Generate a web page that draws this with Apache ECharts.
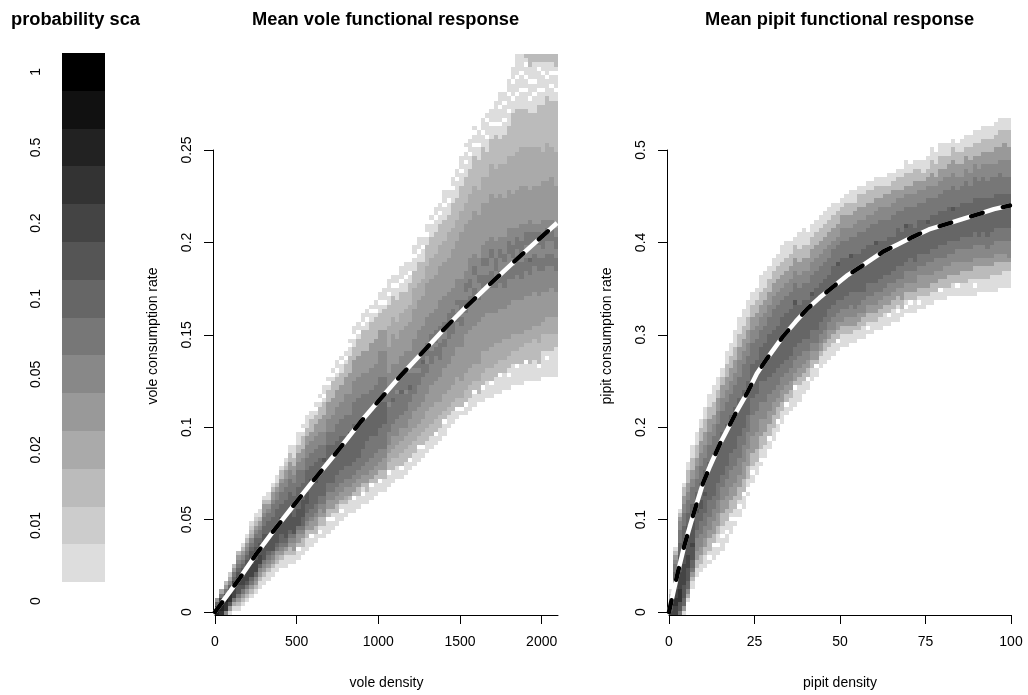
<!DOCTYPE html>
<html><head><meta charset="utf-8">
<style>html,body{margin:0;padding:0;background:#fff}#c{width:1028px;height:695px}</style>
<script src="https://cdn.jsdelivr.net/npm/echarts@6/dist/echarts.min.js"></script></head>
<body><div id="c"></div>
<script>
const scaleLabels=['0','','0.01','','0.02','','0.05','','0.1','','0.2','','0.5','','1'];
const scaleGrays=[255,221,204,187,170,153,136,119,102,85,68,51,34,17,0];
const levelCodes={'.':255,a:221,b:204,c:187,d:170,e:153,f:136,g:119,h:102,i:85,j:68,k:51,l:34,m:17,n:0};
const voleTicksX=[0,500,1000,1500,2000];
const pipitTicksX=[0,25,50,75,100];
const voleCurveX=[0,50,153,250,355,480,612,750,888,1000,1133,1260,1396,1530,1672,1880,2094];
const voleCurveY=[0,0.006,0.0185,0.031,0.0435,0.0575,0.0722,0.087,0.1025,0.114,0.1275,0.1395,0.1525,0.1645,0.1765,0.1935,0.2105];
const pipitCurveX=[0,1.2,2.6,4.5,7,9.9,12,14.9,17,19.9,23,25.7,28.6,33.3,37,40.4,44,48,52,55,59,62.6,67,71.3,76,81.3,85.5,90,95,99.7];
const pipitCurveY=[0,0.02,0.043,0.072,0.104,0.139,0.158,0.182,0.197,0.218,0.238,0.258,0.274,0.298,0.314,0.328,0.34,0.352,0.364,0.371,0.381,0.39,0.398,0.406,0.414,0.42,0.425,0.43,0.436,0.44];
// column-by-column probability levels, "firstRow:letter+runLength..."
const voleColumns=[
"0:l1k1h1e1","0:k1l2j1g1d1","0:f1k2l1j1g1e1c1","0:a1e1i1k2j1h1f1d1b1","1:a1d1g1j2k1j1h1g1e1c1","1:a1c1e1g1i2j2i1h1g1f1e1c1",
"2:a1c1e1g1i1j2i2h1g1f1e1c1a1","3:a1c1e1g1i1j3i2h1g1f1e1c1a1","4:a1c1e1g1h1j3i3h1g1f1d1c1b1a1","5:a1c1e1f1h1j3i3h2g1f1e1c1b1a1",
"6:a2c1e1f1h1j2i3h1g2f1e1c1a2","7:a2c1e1f1g1i3j1i2h2g2f1e2c1a1","8:a2c1e1f1g1h1i4h3g2f1e1c1a2","9:a2c1e1f1g1i4h4g3f1e2c1a1",
"10:a2c1d1e1g1h1i4h4g2f2e1c1a2","11:a2c1e1f1g1h2i4h3g3f2e1c2a1","11:a3c1e1g1h1i5h4g3f2e2c1b1a1","12:a2c2e1f1g1h1i4h5g3f2e2c2a2",
"12:a2c1e2f1g1i4h5g3f2e2c2a3","13:a2.1c1e2f1g1i4h5g4f2e2c2a3","14:a2c2e1f1g1h2i4h4g3f3e2c3a1.1a1","15:a3c2e1f1g2h2i3h5g3f3e2c2a3",
"16:a2.1c1e2f1g2h6i1h3g3f3e2c3a2","17:a2c2e2f1g2h5i1h4g3f3e3c2a1.1a1","18:a1.1a1c2e2f1g2h9g3f3e3c3a1.1a1","18:a3c2e1f2g2h8i1g3f3e4c3a1.1a2",
"19:a3.1c2e2f2g2h9g3f3e4c3a1.1a1","20:a2.1a1c1e2f2g2h9g3f4e4c4a1.1a1","21:a3c2e2f2g3h8g4f4e4c3a1.1a2","22:a2.1a1c1e2f2g3h8g4f4e4c3a2.1a1",
"23:a3c1d1e2f2g3h7g5f5e4c3a1.1a1","24:a3c1e2f2g3h7i1g4f5e5c4a2.1a1","24:a3.1c1e2f2g3h9g5f5e5c3a2.1a2","25:a3c2e2f2g3h8g6f5e5c4a1.1a2",
"26:a2.1a1c1e2f2g4h7g6f5e5c5a1.1a2","26:a3c2e2f3g5h6g5f5e5c5a2.1a2","27:a3.1c1e2f3g5h6g5f5e6c5a2.1a1","28:a3c2e2f3g4h7g5f5e6c5a1.1a2",
"29:a2.1c2e2f3g5h6g6f6e5c4a2.1a2","29:a3c2e3f2g6h5g6f6e5c5a1.1a3",
"30:a3.1c2d2e2f3g6f1g3f4e6d5c5a2.1a3","31:a3c3d2e3f3g5h1g3f5e7d4c5a2.1a2","32:a3c2d3e2f4g6f1g2f4e6d4c5a3.1a2","32:a2.1c3d3e3f3g5h1g3f5e6d4c5a2.1a3",
"33:a3c3d3e2f4g4f1g4f5e6d4c4a3.1a3","34:a2.1c3d3e3f4g3h1g3f5e7d4c5a2.1a2","35:a3c3d3e4f4g5f1g2f5e7d5c4a3.1a2","36:a3.1c2d3e4f5g3f1g3f6e7d4c5a2.1a3",
"37:a2.1c3d3e4f6g3h1g2f6e7d4c4a3.1a2","38:a3c3d4e4f5g2f2g3f6e8d4c5a2.1a2","39:a3c3d4e5f5g3f2g2f5e8d5c5a3.1a1","40:a2.1c3d4e5f6g2f1g3f5e8d5c5a3.1a2",
"41:a3c3d3e6f4g4f2g2f6e8d5c5a2.1a2","42:a3.1c2d4e6f5g2f2g2f6e8d5c5a3.1a3","44:a3c2d4e6f6g3f1g2f5e8d6c4a3.1a2","45:a3c2d4e7f5g3h1g2f5e9d5c6a3.1a2",
"46:a2.1c2d5e7f6g2f2g1f5e9d5c5a4.1a2","47:a1.1c2d4e8f5g2f1g3f5e11d5c6a3.1a3","47:a2.1c3d4e9f5g3f2g2f3e11d5c6a3.1a2.1a1","48:a3c3d4e9f6g2f2g2f5e9d6c6a3.1a3",
"49:a3.1c2d4e9f6g3f3g2f3e10d6c7a2.1a2.1a1","50:a2c3d4e10f5g2f2g2f4e10d6c7a3.1a3","50:a3.1c3d5e8f7g3f2g2f3e10d6c7a3.1a3","51:a4c3d4e9f6g3f2g2f4e9d6c6a3.1a3.1a1",
"51:a3.1c3d5e8f6g4f3g2f3e10d7c6a3.1a3","52:a4c3d5e7f6g2f2g3f4e10d7c8a2.1a5","52:a4.1c3d4e8f6g3f3g2f3e10d7c6a3.1a3.1a3","53:a4c3d5e7f5g4f2g2f4e9d8c7a3.1a3.1a2",
"53:a3.1a1c3d4e8f6g3f3g3f3e9d8c7a3.1a3.1a3","54:a5c3d4e8f5g3f2g3f4e8d9c10a3.1a3.1a3","54:a4.1c3d4e8f6g3f3g3f2e9d9c10a3.1a3.1a5","54:a5c4d3e8f5g4f2g3f4e9d9c9a4.1a3.1a4",
"55:a4.1c4d3e8f6g3f3g3f2e9d9c9a4.1a2.1a2.1a1c1","55:a4c5d3e8f5g3h1f3g3f3e7d10c8a3.1a3.1a3c3","55:a5c5d3e8f6g3f2g3f2e9d9c8a4.1a2.1a4c2","55:a3.1c5d4e7f6g3f3g3f2e9d9c10a3.1a4.1a1c2",
"56:a6c4d3e7f5g3f2g3f4e9d7c11a3.1a3.1a2c2","56:a4.1a1c4d4e6f6g3f3g3f2e9d9c11a4.1a3c2","56:a6c4d4e7f5g3f3g3f2e10d7c11a3.1a2.1a2c2","56:a7c3d4e6f5g3f2g3f2e10d8c12a2.1a3.1a1c3"];
const pipitColumns=[
"0:j1i1g1e1c1a1","0:j2k2j2i2h2g2f1e1c1a1","0:g1i2k3j4i4h3g3f2e1c1a1","0:a1e1h2i3j5i5h4g3f2e2c2a1","3:a1d1f1h2i3j3i7h3g3f2e2c3a2",
"6:a2c1e1g1h2i3j1i5h4g4f2e2c3a3","9:a2c2e2f3g2h4i1h4g3f3e2c3a3","10:a2c2e2f3g3h3i2h4g4f3e3c3a2","11:a3c2e2f3g3h4i1h5g3f3e3c3a3",
"12:a1.1a1c3e2f3g4h9g4f3e3c3a3","13:a3.1c2e3f3g3h10g4f3e2c3a4","14:a2.1a2c2e3f3g4h9g5f3e3c2a3","15:a3.1a2c3e3f3g3h10g5f3e3c2a2",
"17:a2.1a2c3e3f4g3h10g5f3e3c3a3","19:a3.1a1c3e3f4g4h9g5f3e3c3a3","21:a1.1a2c3e3f4g4h10g5f3e3c3a4","23:a2.1a1c3e3f4g5h9g5f4e3c3a4",
"25:a3.1c3e4f4g4h9g6f3e3c3a4","28:a1.1a2c3e4f4g4h8g6f3e3c3a4","31:a2.1a1c3e4f5g4h8g5f3e3c3a3","33:a3c3e4f5g4h8g5f3e3c3a3",
"35:a1.1a2c3e4f4g5h8g4f3e3c3a4","37:a3c3e3f4g5h9g4f3e3c3a4","39:a2.1c3e3f4g4h10g4f3e3c3a3","41:a3c3e3f3g4h10g5f3e3c3a3",
"43:a2.1c3e2f3g4h10g5f3e3c3a3","45:a3c2e3f3g3h11g4f3e3c3a4","47:a2.1c2e2f3g3h11g4f3e3c3a4","48:a3c2e2f3g3h11g4f3e3c3a3",
"49:a4.1c1e2f3g3h10i1g4f3e3c3a2","50:a4c2e2f3g3h9g4f3e3c3a4","52:a3c2e2f3g3h9g4f3e3c3a4","53:a2.1c2e2f2g3h9g4f3e3c3a3",
"55:a3c2e2f2g3h8i1g4f3e3c3a3","56:a2.1c1e2f2g3h10g4f3e3c3a3","58:a3c1e2f2g3h9g4f3e3c3a3","59:a3c2e1f2g3h9g4f3e3c3a3",
"60:a3c2e2f2g3h8g4f3e3c3a3","61:a3c2e1f3g3h9g4f2e3c3a3","62:a2.1c2e2f2g3h8i1g4f2e3c3a2",
"63:a3c2e1f3g2h10g4f3e3c2a2","63:a3c2e2f2g3h9g4f3e3c3a2","64:a2c2e2f3g3h8i1g4f2e3c3a3","64:a3c1e2f2g4h9g4f3e3c2a3",
"65:a2c2e2f2g3h9g5f3e3c3a2","65:a3c2e1f3g2h10g4f3e3c3a2","66:a1.1a1c2e2f2g3h9g4f3e3c3a2","66:a3c2e2f2g3h9g5f2e3c3a2",
"67:a2c2e2f3g2h9i1g4f3e3c3a2","67:a3c2e2f2g3h9g5f3e2c3a2","68:a3c2e2f2g3h8g5f3e3c2a2","68:a2.1c2e2f3g2h9g4f3e3c2a3",
"69:a3c2e2f2g3h8g5f3e3c2a2","69:a2.1a1c2e2f2g3h9g4f3e2c3a2","70:a2c2e3f2g3h8g5f3e2c3a2","71:a1.1a1c2e2f3g2h8i1g4f3e2c3a3",
"71:a2.1c2e2f3g3h8g4f3e2c3a2","71:a3c2e2f3g2h8g5f3e3c3a2","72:a1.1a1c2e3f2g3h8g4f3e2c3a2","72:a3c2e3f2g3h8g4f3e2c2a3",
"73:a2c2e3f3g2h7i1g5f3e2c2a3","73:a3c2e2f3g3h8g4f3e3c3a3","74:a2c2e3f3g2h8g4f3e2c3a3","74:a2.1c2e2f3g3h8g4f3e3c3a3",
"74:a3c2e3f2g3h8g5f3e2c3a3","75:a2c3e2f3g3h8g4f3e3c2a3","75:a3c2e3f2g3h7i1g5f3e3c3a2","75:a2.1c2e3f3g2h8g4f3e3c3a2",
"75:a3c3e2f3g3h8g4f2e3c3a3","75:a3c3e2f3g3h8g5f3e3c2a3","75:a4c2e2f3g3h8g4f3e3c3a3","75:a2.1a1c3e2f3g3h8g5f3e2c3a3",
"76:a3c3e2f3g2h9g4f3e3c3a3","76:a3c3e2f3g3h8g5f3e3c3a3","76:a3c3e2f2g3h9g4f4e3c3a3","76:a4c2e2f3g3h8g5f3e3c3a3",
"76:a4c3e2f3g3h8g4f3e4c3a3","77:a3c3e2f3g3h8g5f3e3c4a3","77:a4c2e2f3g3h8g4f4e4c3a3","77:a4c2e1f4g3h8g4f4e3c4a3"];

const font='Liberation Sans';
function cells(cols,dx,dy,y0){
  const out=[];
  cols.forEach((s,c)=>{
    const p=s.split(':');let r=+p[0];
    for(const m of p[1].matchAll(/([a-n.])(\d+)/g)){
      for(let k=0;k<+m[2];k++){ if(m[1]!=='.') out.push([c*dx,y0+r*dy,levelCodes[m[1]]]); r++; }
    }
  });
  return out;
}
function cellSeries(cols,dx,dy,y0,idx){
  return {type:'custom',xAxisIndex:idx,yAxisIndex:idx,data:cells(cols,dx,dy,y0),encode:{x:0,y:1},
    progressive:0,silent:true,z:1,clip:false,
    renderItem(p,api){
      const a=api.coord([api.value(0),api.value(1)]),b=api.coord([api.value(0)+dx,api.value(1)+dy]);
      const x=Math.round(a[0]),y=Math.round(b[1]),g=api.value(2);
      return {type:'rect',shape:{x,y,width:Math.round(b[0])-x,height:Math.round(a[1])-y},style:{fill:`rgb(${g},${g},${g})`,stroke:null}};
    }};
}
function curve(xs,ys,idx){
  const d=xs.map((x,i)=>[x,ys[i]]);
  const base={type:'line',xAxisIndex:idx,yAxisIndex:idx,data:d,smooth:false,symbol:'none',silent:true,clip:false};
  return [Object.assign({},base,{z:3,lineStyle:{color:'#fff',width:4.5,join:'round'}}),
          Object.assign({},base,{z:4,lineStyle:{color:'#000',width:4.5,type:[12,21],cap:'round',join:'round'}})];
}
function xAx(gi,max,ticks,name){
  return {type:'value',gridIndex:gi,min:0,max,offset:3,name,nameLocation:'middle',nameGap:61,
    nameTextStyle:{fontFamily:font,fontSize:14,color:'#000'},
    splitLine:{show:false},axisLine:{onZero:false,lineStyle:{color:'#000',width:1}},
    axisTick:{length:9,customValues:ticks,lineStyle:{color:'#000',width:1}},
    axisLabel:{margin:20,fontFamily:font,fontSize:14,color:'#000',customValues:ticks,formatter:v=>String(v)}};
}
function yAx(gi,max,interval){
  return {type:'value',gridIndex:gi,min:0,max,interval,offset:2,splitLine:{show:false},
    axisLine:{onZero:false,lineStyle:{color:'#000',width:1}},axisTick:{length:9,lineStyle:{color:'#000',width:1}},
    axisLabel:{rotate:90,margin:19,fontFamily:font,fontSize:14,color:'#000'}};
}
const ttl=(text,x,w)=>({text,left:x,top:11,padding:0,textStyle:Object.assign({fontFamily:font,fontSize:18.3,fontWeight:'bold',color:'#000'},w?{width:w,overflow:'truncate',ellipsis:''}:{})});
const rotName=(text,x)=>({type:'text',x,y:336,rotation:Math.PI/2,silent:true,style:{text,font:'14px "'+font+'"',fill:'#000',align:'center',verticalAlign:'middle'}});

const chart=echarts.init(document.getElementById('c'),null,{renderer:'canvas'});
chart.setOption({
  animation:false,backgroundColor:'#fff',
  title:[ttl('probability scale',11,133),ttl('Mean vole functional response',252),ttl('Mean pipit functional response',705)],
  grid:[{left:62,top:53,width:43,height:567},{left:215,top:150,width:343,height:467},{left:669,top:150,width:342,height:467}],
  xAxis:[{type:'value',gridIndex:0,min:0,max:1,show:false},xAx(1,2100,voleTicksX,'vole density'),xAx(2,100,pipitTicksX,'pipit density')],
  yAxis:[{type:'category',gridIndex:0,data:scaleLabels,axisLine:{show:false},axisTick:{show:false},
          axisLabel:{interval:0,rotate:90,margin:19,fontFamily:font,fontSize:14,color:'#000'}},
         yAx(1,0.25,0.05),yAx(2,0.5,0.1)],
  graphic:[rotName('vole consumption rate',153),rotName('pipit consumption rate',607)],
  series:[
    {type:'custom',xAxisIndex:0,yAxisIndex:0,data:scaleGrays.map((g,i)=>[0,i,g]),encode:{x:0,y:1},silent:true,
     renderItem(p,api){
       const c=api.coord([0,api.value(1)]),h=api.size([0,1])[1],e=api.coord([1,0])[0],g=api.value(2);
       const y=Math.round(c[1]-h/2);
       return {type:'rect',shape:{x:c[0],y,width:e-c[0],height:Math.round(c[1]+h/2)-y},style:{fill:`rgb(${g},${g},${g})`,stroke:null}};
     }},
    cellSeries(voleColumns,26.25,0.0023,-0.0016,1),
    ...curve(voleCurveX,voleCurveY,1),
    cellSeries(pipitColumns,1.25,0.0046,-0.0032,2),
    ...curve(pipitCurveX,pipitCurveY,2)
  ]
});
</script></body></html>
